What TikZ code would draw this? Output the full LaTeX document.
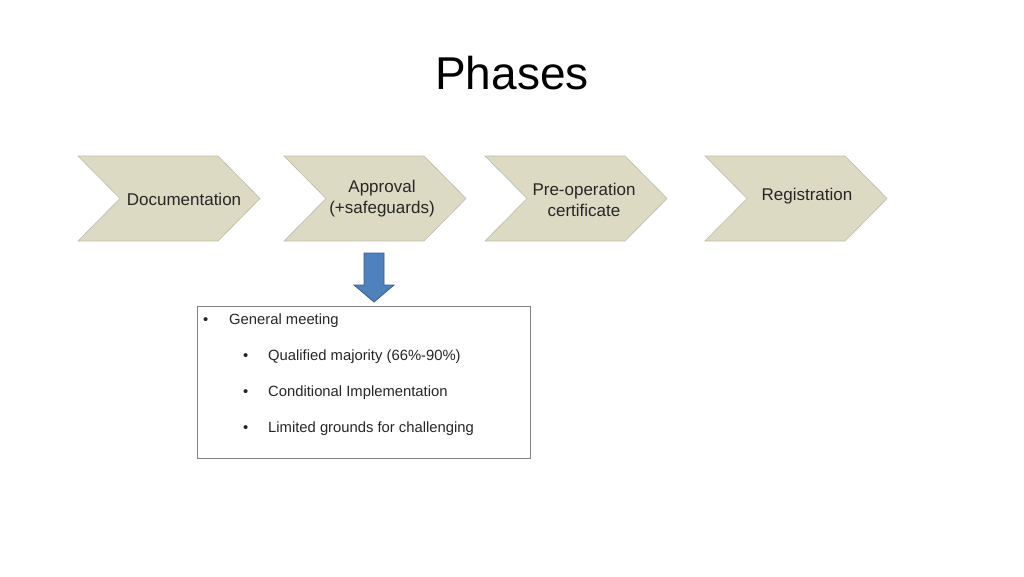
\documentclass[tikz,border=0pt]{standalone}
\usepackage{fontspec}
\setmainfont{Liberation Sans}
\usepackage{tikz}
\usetikzlibrary{positioning}
\definecolor{phasefill}{RGB}{221,218,196}
\definecolor{phaseline}{RGB}{190,187,168}
\definecolor{arrowfill}{RGB}{79,129,189}
\definecolor{arrowline}{RGB}{56,93,138}
\newcommand{\clrtext}{black!85}

\begin{document}
\begin{tikzpicture}[x=1pt, y=-1pt,
    phase/.style = {fill=phasefill, draw=phaseline, line width=0.6pt},
    phasetext/.style = {font=\fontsize{17}{21}\selectfont, text=\clrtext, align=center, inner sep=0pt},
    itemtext/.style = {font=\fontsize{14.8}{17}\selectfont, text=\clrtext, anchor=west, inner sep=0pt}]
    \useasboundingbox (0,0) rectangle (1024,576);
    %title
        \node[font=\fontsize{46}{52}\selectfont, inner sep=0pt] (title) at (512,73) {Phases};
    %chevrons, left edge of each
        \foreach \x in {78,284,485,705} {
            \draw[phase] (\x,156) -- ++(140,0) -- ++(42,42.5) -- ++(-42,42.5)
                -- ++(-140,0) -- ++(42,-42.5) -- cycle;
        }
    %phase texts placed by hand
        \node[phasetext] (docu) at (184,199) {Documentation};
        \node[phasetext] (appr) at (382,198.5) {Approval\\(+safeguards)};
        \node[phasetext] (preop) at (584,200) {Pre-operation\\certificate};
        \node[phasetext] (regi) at (807,196) {Registration};
    %block arrow down
        \draw[fill=arrowfill, draw=arrowline, line width=0.8pt]
            (364,253) -- (384,253) -- (384,285) -- (394,285) -- (374,302)
            -- (354,285) -- (364,285) -- cycle;
    %detail box
        \node[draw=black!50, line width=0.7pt, minimum width=333, minimum height=152] (meeting) at (363.5,382) {};
        \node[itemtext] (b0) at (203,321) {\textbullet};
        \node[itemtext] (gm) at (229,321) {General meeting};
        \foreach \y/\t [count=\i] in {357/Qualified majority (66\%-90\%),
                                      393/Conditional Implementation,
                                      429/Limited grounds for challenging} {
            \node[itemtext] (s\i) at (243,\y) {\textbullet};
            \node[itemtext] (t\i) at (268,\y) {\t};
        }
\end{tikzpicture}
\end{document}
